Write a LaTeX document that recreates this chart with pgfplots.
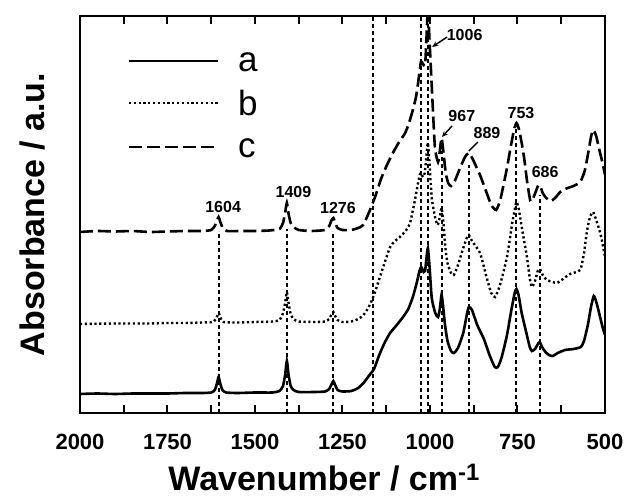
\documentclass[border=0pt]{standalone}
\usepackage{fontspec}
\setmainfont{Liberation Sans}
\usepackage{pgfplots}
\pgfplotsset{compat=1.18}
\usetikzlibrary{arrows.meta}
\newcommand{\fs}[1]{\fontsize{#1}{#1}\selectfont}

\begin{document}
\begin{tikzpicture}
\begin{axis}[
  scale only axis, width=525pt, height=397pt,
  x dir=reverse, xmin=500, xmax=2000, ymin=0, ymax=397,
  xtick={500,750,1000,1250,1500,1750,2000},
  ytick=\empty,
  major tick length=0pt,
  axis line style={line width=2.8pt},
  /pgf/number format/assume math mode=true,
  /pgf/number format/set thousands separator={},
  xticklabel style={font=\fs{22}\bfseries, anchor=base, yshift=-36pt},
  xlabel={Wavenumber / cm\textsuperscript{-1}},
  ylabel={Absorbance / a.u.},
  label style={font=\fs{34}\bfseries},
  xlabel style={at={(axis description cs:0.465,-0.194)}, anchor=base},
  ylabel style={at={(axis description cs:-0.0667,0.5)}, anchor=base},
]

% ticks (inside, top and bottom, every 125)
\addplot[black, line width=2pt, forget plot, ycomb] coordinates {
(625,8)(750,8)(875,8)(1000,8)(1125,8)(1250,8)(1375,8)(1500,8)(1625,8)(1750,8)(1875,8)};
\addplot[black, line width=2pt, forget plot, unbounded coords=jump] coordinates {
(625,397)(625,389) (625,nan) (750,397)(750,389) (750,nan) (875,397)(875,389) (875,nan)
(1000,397)(1000,389) (1000,nan) (1125,397)(1125,389) (1125,nan) (1250,397)(1250,389) (1250,nan)
(1375,397)(1375,389) (1375,nan) (1500,397)(1500,389) (1500,nan) (1625,397)(1625,389) (1625,nan)
(1750,397)(1750,389) (1750,nan) (1875,397)(1875,389)};

% guide lines
\pgfplotsset{guide/.style={black, line width=2pt, dash pattern=on 4pt off 3pt}}
\addplot[guide] coordinates {(1604,0) (1604,182)};
\addplot[guide] coordinates {(1409,0) (1409,184)};
\addplot[guide] coordinates {(1276,0) (1276,182)};
\addplot[guide] coordinates {(1162,0) (1162,397)};
\addplot[guide] coordinates {(1027,0) (1027,397)};
\addplot[guide] coordinates {(1006,0) (1006,397)};
\addplot[guide] coordinates {(967,0) (967,262)};
\addplot[guide] coordinates {(889,0) (889,248)};
\addplot[guide] coordinates {(753,0) (753,285)};
\addplot[guide] coordinates {(686,0) (686,218)};

% a
\addplot[black, line width=2.6pt, smooth, tension=0.35] coordinates {
(2000,19)(1950,19.5)(1900,19)(1850,19.5)(1800,19.5)(1750,19.5)(1700,20)(1650,20)
(1625,20.5)(1615,23)(1609,29)(1604,36)(1599,29)(1593,23)(1583,20.5)(1550,20)
(1500,20.5)(1450,20.5)(1430,22)(1420,27)(1414,38)(1409,52)(1404,38)(1398,27)
(1390,23)(1375,21)(1330,21)(1300,21.5)(1288,24)(1281,29)(1276,32)(1271,28)
(1264,23)(1250,21.5)(1225,22)(1205,25)(1190,30)(1175,37)(1160,44)(1145,58)
(1130,70)(1114,80)(1095,88)(1077,96)(1062,104)(1049,116)(1038,130)(1030,142)
(1025,146)(1018,141)(1014,142)(1010,155)(1006,165)(1001,145)(995,115)(985,100)
(977,96)(972,104)(967,118)(963,108)(957,88)(950,72)(940,62)(932,60)(920,65)
(905,80)(895,98)(889,106)(880,103)(865,88)(846,74)(830,58)(815,46)(806,46)
(795,56)(780,78)(768,102)(758,120)(753,124)(747,118)(738,100)(726,82)(715,66)
(709,62)(700,64)(690,70)(686,71)(680,66)(670,61)(660,58)(649,57)(635,60)
(614,63)(590,64)(569,66)(560,72)(549,88)(540,106)(532,117)(524,110)(514,96)
(507,86)(500,78)};

% b
\addplot[black, line width=2.4pt, dash pattern=on 2.2pt off 2.6pt, smooth, tension=0.35] coordinates {
(2000,89)(1900,89.5)(1800,89.5)(1750,90)(1700,90)(1650,90.5)(1620,91)(1610,95)
(1604,100)(1598,95)(1590,91)(1550,90.5)(1500,91)(1450,91.5)(1430,93)(1420,100)
(1414,110)(1409,121)(1404,110)(1398,99)(1390,94)(1375,91.5)(1330,91)(1300,91.5)
(1288,94)(1281,99)(1276,101)(1271,97)(1264,93)(1250,91)(1225,91.5)(1205,94)
(1190,98)(1175,106)(1160,118)(1143,136)(1128,152)(1114,166)(1100,172)(1086,176)
(1070,182)(1057,190)(1043,213)(1033,232)(1027,240)(1020,236)(1015,240)(1010,258)
(1006,270)(1001,248)(995,215)(985,195)(978,188)(972,196)(967,205)(962,192)
(956,165)(950,150)(940,140)(932,138)(920,148)(905,165)(895,175)(889,178)
(880,172)(857,160)(840,138)(825,120)(814,116)(800,128)(780,156)(765,190)
(757,205)(753,211)(747,205)(735,180)(723,156)(715,135)(709,126)(700,132)
(692,142)(686,144)(678,138)(666,133)(650,131)(637,130)(620,134)(600,139)
(571,143)(560,160)(551,183)(542,197)(534,201)(526,194)(516,183)(509,173)
(500,156)};

% c
\addplot[black, line width=2.6pt, dash pattern=on 13pt off 5pt, smooth, tension=0.35] coordinates {
(2000,181)(1950,182)(1900,181.5)(1850,182)(1800,181)(1750,181.5)(1700,182)(1650,182)
(1625,183)(1615,187)(1609,192)(1604,196)(1599,191)(1592,185)(1580,182)(1540,182)
(1500,182)(1460,182.5)(1430,184)(1420,190)(1414,200)(1409,210)(1404,199)(1398,190)
(1390,186)(1375,183)(1340,182)(1300,183)(1288,187)(1281,193)(1276,195)(1271,190)
(1264,185)(1250,183)(1225,183)(1205,185)(1191,188)(1175,200)(1157,216)(1140,234)
(1123,248)(1106,260)(1090,270)(1071,280)(1060,290)(1049,303)(1040,316)(1034,330)
(1026,351)(1020,349)(1014,348)(1010,375)(1006,405)(1001,370)(994,320)(986,266)
(977,251)(972,262)(967,275)(962,262)(955,240)(948,230)(940,227)(928,233)
(914,245)(900,256)(889,260)(878,254)(865,244)(857,238)(840,222)(825,208)
(811,203)(800,212)(790,228)(780,245)(770,265)(760,283)(753,290)(746,284)
(738,270)(731,255)(722,230)(713,212)(705,215)(695,224)(690,228)(684,226)
(678,220)(668,215)(654,212)(640,216)(628,221)(614,224)(590,227)(571,231)
(558,242)(548,260)(540,276)(534,283)(526,278)(516,263)(507,250)(500,238)};

% peak labels
\begin{scope}[font=\fs{16}\bfseries]
\node at (axis cs:1591,206) {1604};
\node at (axis cs:1390,221) {1409};
\node at (axis cs:1263,205) {1276};
\node at (axis cs:901,378) {1006};
\node at (axis cs:909,297) {967};
\node at (axis cs:837,280) {889};
\node at (axis cs:740,300) {753};
\node at (axis cs:671,241) {686};
\end{scope}
\draw[-{Stealth[length=6pt,width=5pt]}, line width=1.4pt] (axis cs:951,376) -- (axis cs:994,366);
\draw[-{Stealth[length=6pt,width=5pt]}, line width=1.4pt] (axis cs:937,287) -- (axis cs:966,276);
\draw[line width=1.4pt] (axis cs:863,271) -- (axis cs:889,262);

% legend
\draw[black, line width=2.6pt] (axis cs:1860,352) -- (axis cs:1606,352);
\draw[black, line width=2.4pt, dash pattern=on 2.2pt off 2.6pt] (axis cs:1860,310) -- (axis cs:1606,310);
\draw[black, line width=2.6pt, dash pattern=on 13pt off 5pt] (axis cs:1860,266) -- (axis cs:1606,266);
\node[anchor=base west, inner sep=0pt, font=\fs{35}] at (axis cs:1549,341) {a};
\node[anchor=base west, inner sep=0pt, font=\fs{35}] at (axis cs:1549,297) {b};
\node[anchor=base west, inner sep=0pt, font=\fs{35}] at (axis cs:1549,255) {c};
\end{axis}
\pgfresetboundingbox
\useasboundingbox (-80pt,-85pt) rectangle (547pt,413pt);
\end{tikzpicture}
\end{document}
